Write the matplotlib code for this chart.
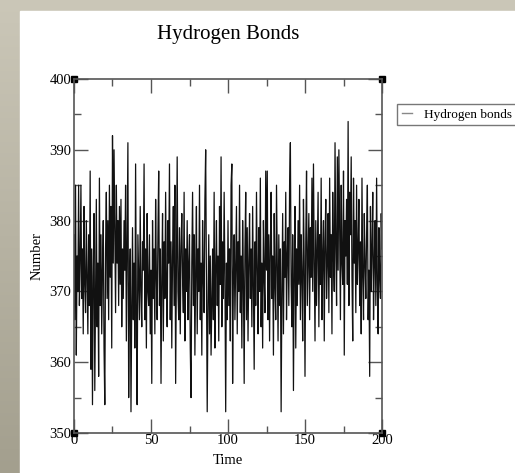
import numpy as np
import matplotlib
matplotlib.use("Agg")
import matplotlib.pyplot as plt

hbonds = [
    378, 366, 385, 361, 375, 370, 385, 368, 374, 385,
    369, 376, 364, 382, 371, 367, 380, 372, 364, 378,
    368, 387, 359, 376, 354, 372, 381, 356, 370, 383,
    365, 374, 358, 386, 368, 378, 364, 373, 380, 362,
    354, 376, 384, 369, 380, 366, 385, 372, 382, 362,
    392, 374, 390, 378, 367, 385, 374, 380, 368, 382,
    371, 383, 365, 376, 369, 380, 373, 385, 363, 378,
    391, 355, 370, 376, 353, 368, 379, 366, 374, 362,
    388, 367, 354, 378, 372, 366, 382, 370, 365, 377,
    373, 388, 366, 376, 362, 381, 370, 368, 378, 364,
    373, 357, 380, 369, 376, 364, 383, 372, 366, 378,
    387, 368, 376, 357, 372, 381, 363, 377, 369, 384,
    371, 365, 380, 374, 388, 366, 377, 362, 375, 382,
    368, 385, 357, 374, 389, 370, 366, 379, 364, 376,
    381, 372, 367, 384, 363, 376, 370, 380, 366, 374,
    378, 362, 355, 374, 384, 368, 378, 361, 373, 382,
    364, 376, 370, 385, 366, 374, 361, 380, 372, 367,
    383, 390, 371, 353, 368, 378, 364, 375, 361, 369,
    376, 366, 384, 362, 373, 380, 368, 375, 363, 382,
    371, 389, 365, 377, 369, 384, 372, 353, 374, 366,
    380, 368, 376, 363, 385, 388, 357, 372, 378, 366,
    374, 382, 364, 377, 370, 385, 367, 375, 362, 380,
    372, 357, 376, 384, 366, 379, 363, 374, 381, 369,
    376, 365, 382, 371, 359, 377, 368, 384, 373, 364,
    379, 370, 386, 365, 374, 362, 380, 372, 367, 387,
    373, 387, 366, 378, 363, 376, 384, 369, 375, 361,
    381, 371, 366, 385, 374, 363, 378, 368, 376, 353,
    370, 381, 364, 377, 372, 384, 366, 375, 379, 368,
    385, 391, 371, 365, 378, 356, 373, 382, 362, 376,
    368, 380, 371, 385, 366, 378, 372, 363, 383, 374,
    358, 377, 387, 368, 375, 381, 366, 379, 372, 386,
    370, 388, 374, 363, 380, 368, 376, 384, 365, 378,
    371, 386, 366, 375, 380, 363, 377, 383, 369, 374,
    381, 367, 386, 372, 378, 364, 384, 375, 370, 391,
    376, 368, 389, 373, 390, 379, 366, 385, 374, 371,
    387, 361, 380, 375, 383, 371, 394, 368, 384, 378,
    389, 372, 363, 386, 374, 380, 367, 385, 371, 376,
    383, 368, 377, 364, 386, 372, 366, 381, 374, 369,
    378, 385, 366, 373, 358, 382, 370, 376, 384, 366,
    374, 380, 368, 386, 371, 364, 379, 372, 369, 381, 376,
]
time = np.linspace(0, 200, len(hbonds))

xticks = [0, 50, 100, 150, 200]
yticks = [350, 360, 370, 380, 390, 400]

plt.rcParams['font.family'] = ['Liberation Serif', 'DejaVu Serif']

fig = plt.figure(figsize=(5.15, 4.73), dpi=100)

# slide background: gray gradient with a white panel on top
bg = fig.add_axes([0, 0, 1, 1], zorder=-10)
grad = np.linspace(0, 1, 256).reshape(-1, 1) * np.ones((1, 2))
bg.imshow(grad, aspect='auto', extent=[0, 1, 0, 1],
          cmap=matplotlib.colors.LinearSegmentedColormap.from_list('g', ['#cbc7b8', '#a39f8e']))
bg.add_patch(plt.Rectangle((20 / 515, 0), 1, 1 - 11 / 473, color='white'))
bg.set_xlim(0, 1)
bg.set_ylim(0, 1)
bg.axis('off')

ax = fig.add_axes([74 / 515, 1 - 433 / 473, 308 / 515, 354 / 473])
ax.plot(time, hbonds, color='#111111', lw=0.9, label='Hydrogen bonds')

ax.set_xlim(0, 200)
ax.set_ylim(350, 400)
ax.set_xticks(xticks)
ax.set_yticks(yticks)
ax.set_xticks([25, 75, 125, 175], minor=True)
ax.set_yticks([355, 365, 375, 385, 395], minor=True)
ax.tick_params(which='both', direction='in', top=True, right=True,
               color='#555555', labelsize=10.5)
ax.tick_params(which='major', length=10, width=1)
ax.tick_params(which='minor', length=5, width=1)
ax.tick_params(axis='x', pad=1)
ax.tick_params(axis='y', pad=2)
for s in ax.spines.values():
    s.set_color('#555555')
    s.set_linewidth(1.2)

# corner handles
ax.plot([0, 1, 0, 1], [0, 0, 1, 1], 's', color='black', ms=4,
        transform=ax.transAxes, clip_on=False)

ax.set_xlabel('Time', fontsize=10.5, labelpad=5)
ax.set_ylabel('Number', fontsize=10.5, labelpad=4)
fig.text(228 / 515, 1 - 35 / 473, 'Hydrogen Bonds', ha='center', va='center', fontsize=15)

leg = ax.legend(loc='upper left', bbox_to_anchor=(397 / 515, 1 - 104 / 473),
                bbox_transform=fig.transFigure, fontsize=9.5, handlelength=0.8,
                fancybox=False, framealpha=1, edgecolor='#777777',
                borderpad=0.35, handletextpad=0.9, borderaxespad=0)
leg.get_lines()[0].set_color('#888888')
leg.get_lines()[0].set_linewidth(1)
leg.get_frame().set_linewidth(1)

fig.savefig('out.png', dpi=100)
